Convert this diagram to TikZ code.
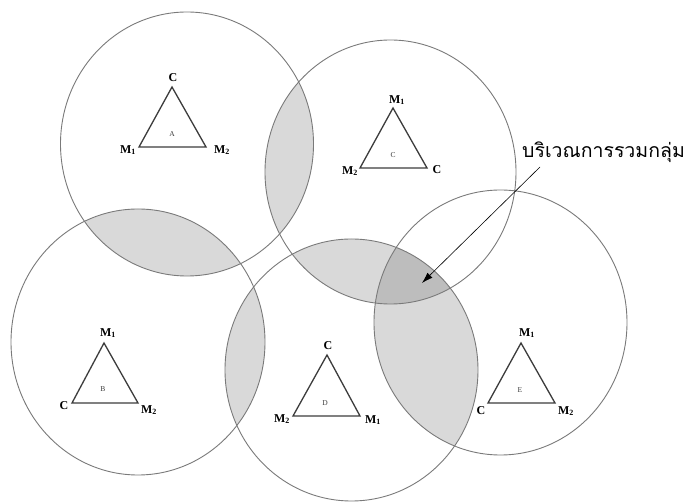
\documentclass[tikz,border=0pt]{standalone}
\usepackage{fontspec}
\setmainfont{Liberation Serif}
\newfontfamily\thaifont[Script=Thai]{Loma}
\usetikzlibrary{arrows.meta}
\definecolor{lensgray}{HTML}{D9D9D9}
\definecolor{darkgray2}{HTML}{BDBDBD}
\definecolor{ringgray}{HTML}{7A7A7A}
\definecolor{trigray}{HTML}{3C3C3C}
\tikzset{
  ring/.style={draw=ringgray, line width=0.9pt},
  tri/.style={draw=trigray, line width=1.3pt, line join=miter},
  lbl/.style={font=\fontsize{12}{12}\selectfont\bfseries, inner sep=0pt},
  inner/.style={font=\fontsize{7.5}{7.5}\selectfont, inner sep=0pt, text=trigray},
  pointer/.style={draw=black, line width=0.6pt, -{Latex[length=11pt,width=7pt]}}
}
\newcommand{\CircA}{(187,144) ellipse [x radius=126.5pt, y radius=132pt]}
\newcommand{\CircB}{(138,342) ellipse [x radius=127pt, y radius=133pt]}
\newcommand{\CircC}{(390.5,172) ellipse [x radius=125.5pt, y radius=132pt]}
\newcommand{\CircD}{(351.5,370) ellipse [x radius=126.5pt, y radius=131pt]}
\newcommand{\CircE}{(500.5,322.5) ellipse [x radius=126.5pt, y radius=132.5pt]}
\begin{document}
\begin{tikzpicture}[x=1pt, y=-1pt]
\useasboundingbox (0,0) rectangle (689,502);
\fill[white] (0,0) rectangle (689,502);
% shaded overlaps
\begin{scope}\clip \CircA; \fill[lensgray] \CircC; \end{scope}
\begin{scope}\clip \CircA; \fill[lensgray] \CircB; \end{scope}
\begin{scope}\clip \CircB; \fill[lensgray] \CircD; \end{scope}
\begin{scope}\clip \CircC; \fill[lensgray] \CircD; \end{scope}
\begin{scope}\clip \CircD; \fill[lensgray] \CircE; \end{scope}
\begin{scope}\clip \CircC; \clip \CircD; \fill[darkgray2] \CircE; \end{scope}
% circles
\draw[ring] \CircA;
\draw[ring] \CircB;
\draw[ring] \CircC;
\draw[ring] \CircD;
\draw[ring] \CircE;
% triangle A
\coordinate (a1) at (172,87); \coordinate (a2) at (139,147); \coordinate (a3) at (206,147);
\draw[tri] (a1) -- (a2) -- (a3) -- cycle;
\node[lbl] (aC) at (173,78) {C};
\node[lbl] (aM1) at (128,150) {M\textsubscript{1}};
\node[lbl] (aM2) at (222,150) {M\textsubscript{2}};
\node[inner] (aN) at (172,134) {A};
% triangle C
\coordinate (c1) at (393,108); \coordinate (c2) at (360,168); \coordinate (c3) at (427,168);
\draw[tri] (c1) -- (c2) -- (c3) -- cycle;
\node[lbl] (cM1) at (397,100) {M\textsubscript{1}};
\node[lbl] (cM2) at (350,171) {M\textsubscript{2}};
\node[lbl] (cC) at (437,170) {C};
\node[inner] (cN) at (393,155) {C};
% triangle B
\coordinate (b1) at (104,343); \coordinate (b2) at (72,403); \coordinate (b3) at (138,403);
\draw[tri] (b1) -- (b2) -- (b3) -- cycle;
\node[lbl] (bM1) at (108,333) {M\textsubscript{1}};
\node[lbl] (bC) at (64,406) {C};
\node[lbl] (bM2) at (149,410) {M\textsubscript{2}};
\node[inner] (bN) at (103,389) {B};
% triangle D
\coordinate (d1) at (327,355); \coordinate (d2) at (293,416); \coordinate (d3) at (360,416);
\draw[tri] (d1) -- (d2) -- (d3) -- cycle;
\node[lbl] (dC) at (328,346) {C};
\node[lbl] (dM2) at (282,419) {M\textsubscript{2}};
\node[lbl] (dM1) at (373,420) {M\textsubscript{1}};
\node[inner] (dN) at (325,403) {D};
% triangle E
\coordinate (e1) at (521,343); \coordinate (e2) at (488,403); \coordinate (e3) at (555,403);
\draw[tri] (e1) -- (e2) -- (e3) -- cycle;
\node[lbl] (eM1) at (527,333) {M\textsubscript{1}};
\node[lbl] (eC) at (481,411) {C};
\node[lbl] (eM2) at (566,411) {M\textsubscript{2}};
\node[inner] (eN) at (520,390) {E};
% label and arrow
\node[anchor=base west, inner sep=0pt, font=\thaifont\fontsize{19.5}{19.5}\selectfont] (zone) at (522,158) {บริเวณการรวมกลุ่ม};
\coordinate (astart) at (540,167);
\coordinate (atip) at (422,283);
\draw[pointer] (astart) -- (atip);
\end{tikzpicture}
\end{document}
